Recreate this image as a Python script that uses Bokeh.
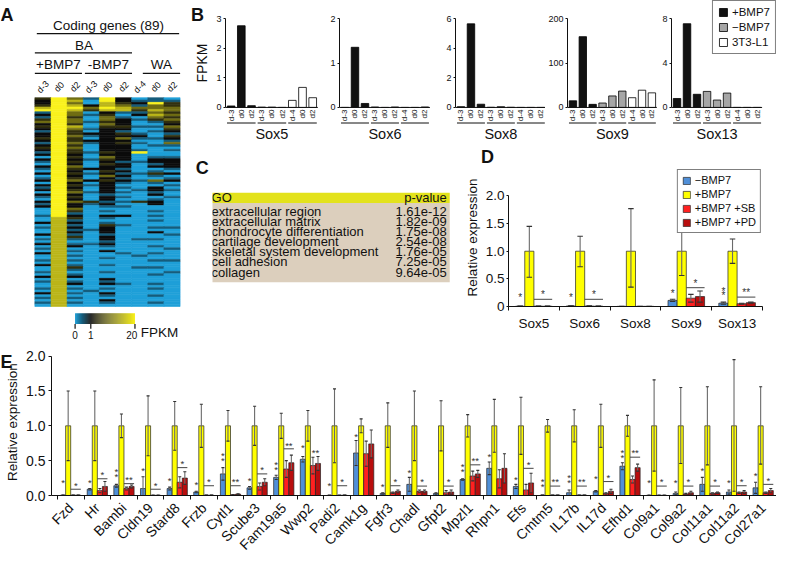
import math
import numpy as np
from bokeh.plotting import figure
from bokeh.models import Range1d, FixedTicker, Legend, LegendItem, PrintfTickFormatter
from bokeh.layouts import row, column
from bokeh.embed import file_html
from bokeh.resources import INLINE
from bokeh.core.properties import value

FONT = "Liberation Sans"
SX = 776 / 792
SY = 561 / 577

# ---------------- Panel A data (heatmap, level codes per row: 9 samples) ----------------
heat_title = "Coding genes (89)"
heat_groups = ["+BMP7", "-BMP7", "WA"]
heat_samples = ["d-3", "d0", "d2", "d-3", "d0", "d2", "d-4", "d0", "d2"]
heat_level_fpkm = [0.0, 0.45, 1.0, 4.0, 9.0, 15.0, 20.0]
heat_rows = [
    "364162010", "265062111", "264053263", "365254143", "566465444", "665355354",
    "164021143", "264130254", "163041043", "364042134", "464132013", "263042002",
    "365033114", "264122003", "163021012", "263223101", "264122203", "363024112",
    "263222001", "164123104", "263022011", "364022000", "263022101", "163132600",
    "262022000", "063042011", "262132022", "163021122", "062032012", "264022022",
    "163221001", "062032010", "263121132", "062042010", "163021001", "264232142",
    "062021010", "263120001", "162021020", "263020121", "064121010", "262010020",
    "163021001", "062020010", "264311320", "162120020", "262011000", "064000000",
    "063010010", "061000000", "162022010", "053010000", "051000010", "252010000",
    "051031000", "152020011", "051120000", "052020020", "251010001", "053020000",
    "151020110", "050010000", "251120000", "052010010", "150000001", "051020000",
    "250001010", "051000100", "050010000", "151000011", "050000000", "251010000",
    "053000110", "051000000", "150010001", "051000010", "252000000", "050020000",
    "151010000", "052021010", "050000000", "151010010", "050100000", "251020000",
    "050010010", "151000000", "050020000", "151010010", "050000000",
]
cbar_ticks = [0, 1, 20]

# ---------------- Panel B data ----------------
b_genes = ["Sox5", "Sox6", "Sox8", "Sox9", "Sox13"]
b_days = ["d-3", "d0", "d2", "d-3", "d0", "d2", "d-4", "d0", "d2"]
b_groups = ["+BMP7", "\u2212BMP7", "3T3-L1"]
sox5_fpkm = [0.05, 2.77, 0.06, 0.01, 0.01, 0.0, 0.24, 0.68, 0.33]
sox6_fpkm = [0.0, 1.36, 0.09, 0.01, 0.0, 0.01, 0.0, 0.0, 0.01]
sox8_fpkm = [0.05, 5.67, 0.22, 0.01, 0.05, 0.01, 0.0, 0.0, 0.0]
sox9_fpkm = [15, 160, 7, 10, 26, 37, 22, 39, 33]
sox13_fpkm = [0.81, 7.57, 1.19, 1.45, 0.67, 1.3, 0.0, 0.0, 0.0]
b_ymax = [3, 2, 6, 200, 8]
b_ticks = [[0, 1, 2, 3], [0, 1, 2], [0, 2, 4, 6], [0, 100, 200], [0, 4, 8]]

# ---------------- Panel C data ----------------
go_terms = ["extracellular region", "extracellular matrix", "chondrocyte differentiation",
            "cartilage development", "skeletal system development", "cell adhesion", "collagen"]
go_pvalues = ["1.61e-12", "1.82e-09", "1.75e-08", "2.54e-08", "1.76e-05", "7.25e-05", "9.64e-05"]

# ---------------- Panel D data ----------------
d_genes = ["Sox5", "Sox6", "Sox8", "Sox9", "Sox13"]
d_series = ["\u2212BMP7", "+BMP7", "+BMP7 +SB", "+BMP7 +PD"]
d_minus = [0.005, 0.01, 0.003, 0.11, 0.06]
d_minus_err = [0.002, 0.004, 0.002, 0.02, 0.02]
d_plus_hi = [1.45, 1.27, 1.77, 1.43, 1.22]
d_plus_lo = [0.53, 0.72, 0.35, 0.56, 0.78]
d_sb = [0.005, 0.008, 0.003, 0.15, 0.05]
d_sb_err = [0.002, 0.003, 0.002, 0.07, 0.01]
d_pd = [0.004, 0.005, 0.003, 0.18, 0.07]
d_pd_err = [0.002, 0.002, 0.002, 0.10, 0.01]
d_minus_star = [1, 1, 0, 1, 2]
d_minus_star_y = [0.17, 0.17, 0.0, 0.23, 0.19]
d_pair_line = [0.13, 0.13, 0.0, 0.34, 0.17]
d_pair_star = [1, 1, 0, 1, 2]
d_pair_star_y = [0.21, 0.21, 0.0, 0.42, 0.25]

# ---------------- Panel E data ----------------
e_genes = ["Fzd", "Hr", "Bambi", "Cldn19", "Stard8", "Frzb", "Cytl1", "Scube3", "Fam19a5",
           "Wwp2", "Padi2", "Camk1g", "Fgfr3", "Chadl", "Gfpt2", "Mpzl1", "Rhpn1", "Efs",
           "Cmtm5", "IL17b", "IL17d", "Efhd1", "Col9a1", "Col9a2", "Col11a1", "Col11a2", "Col27a1"]
e_minus = [0.005, 0.09, 0.14, 0.10, 0.10, 0.05, 0.31, 0.11, 0.26, 0.52, 0.003, 0.61, 0.03, 0.16,
           0.03, 0.23, 0.39, 0.13, 0.005, 0.04, 0.06, 0.42, 0.003, 0.03, 0.16, 0.05, 0.11]
e_minus_err = [0.003, 0.01, 0.02, 0.17, 0.02, 0.01, 0.09, 0.02, 0.03, 0.04, 0.002, 0.18, 0.01, 0.10,
               0.01, 0.01, 0.09, 0.03, 0.003, 0.04, 0.01, 0.05, 0.002, 0.02, 0.10, 0.03, 0.08]
e_plus_hi = [1.50, 1.50, 1.17, 1.43, 1.35, 1.31, 1.22, 1.28, 1.18, 1.22, 1.53, 1.10, 1.33, 1.50,
             1.36, 1.16, 1.38, 1.41, 1.09, 1.23, 1.31, 1.15, 1.66, 1.55, 1.56, 1.95, 1.56]
e_plus_lo = [0.50, 0.50, 0.83, 0.57, 0.65, 0.69, 0.78, 0.72, 0.82, 0.78, 0.47, 0.90, 0.69, 0.50,
             0.64, 0.84, 0.62, 0.59, 0.91, 0.77, 0.69, 0.85, 0.35, 0.46, 0.44, 0.06, 0.45]
e_sb = [0.005, 0.07, 0.10, 0.003, 0.19, 0.005, 0.01, 0.13, 0.38, 0.43, 0.003, 0.60, 0.04, 0.06,
        0.04, 0.28, 0.24, 0.08, 0.005, 0.005, 0.03, 0.23, 0.003, 0.02, 0.03, 0.04, 0.04]
e_sb_err = [0.002, 0.03, 0.02, 0.002, 0.08, 0.002, 0.005, 0.05, 0.12, 0.12, 0.002, 0.18, 0.01, 0.02,
            0.03, 0.07, 0.13, 0.08, 0.002, 0.002, 0.01, 0.05, 0.002, 0.01, 0.01, 0.01, 0.01]
e_pd = [0.005, 0.13, 0.13, 0.003, 0.25, 0.005, 0.02, 0.19, 0.47, 0.46, 0.005, 0.74, 0.06, 0.06,
        0.05, 0.31, 0.39, 0.18, 0.005, 0.005, 0.06, 0.40, 0.003, 0.04, 0.04, 0.05, 0.07]
e_pd_err = [0.002, 0.07, 0.02, 0.002, 0.09, 0.002, 0.005, 0.05, 0.11, 0.10, 0.002, 0.20, 0.02, 0.02,
            0.03, 0.05, 0.21, 0.14, 0.002, 0.002, 0.03, 0.05, 0.002, 0.02, 0.01, 0.02, 0.03]
e_minus_star = [1, 1, 2, 1, 1, 1, 2, 1, 2, 1, 1, 1, 1, 1, 0, 2, 1, 1, 2, 2, 1, 2, 1, 1, 1, 1, 1]
e_minus_star_y = [0.18, 0.19, 0.27, 0.36, 0.21, 0.16, 0.50, 0.22, 0.37, 0.69, 0.14, 0.84, 0.13, 0.33,
                  0.0, 0.35, 0.56, 0.23, 0.13, 0.19, 0.24, 0.55, 0.18, 0.18, 0.36, 0.18, 0.28]
e_pair_line = [0.09, 0.24, 0.17, 0.09, 0.40, 0.14, 0.14, 0.31, 0.67, 0.0, 0.14, 0.0, 0.14, 0.135,
               0.135, 0.44, 0.0, 0.39, 0.135, 0.135, 0.20, 0.55, 0.135, 0.135, 0.135, 0.14, 0.16]
e_pair_star = [1, 1, 2, 1, 1, 1, 2, 1, 2, 2, 1, 0, 1, 1, 1, 2, 0, 1, 2, 2, 1, 2, 1, 1, 1, 1, 1]
e_pair_star_y = [0.15, 0.30, 0.23, 0.15, 0.46, 0.20, 0.20, 0.37, 0.72, 0.62, 0.20, 0.0, 0.20, 0.195,
                 0.195, 0.50, 0.0, 0.45, 0.195, 0.195, 0.26, 0.61, 0.195, 0.195, 0.195, 0.20, 0.22]

# ---------------- styling ----------------
B_COLORS = ["#111111", "#a6a6a6", "#ffffff"]
C_BLUE, C_YEL, C_RED, C_DRED = "#4f8fd8", "#ffff00", "#ff2020", "#b80d0d"
ERR = "#6a6a6a"
INK = "#111111"


def fpkm_color(v):
    blue = np.array([31, 160, 216.0])
    black = np.array([12, 12, 12.0])
    yellow = np.array([250, 242, 30.0])
    if v <= 1:
        c = blue * (1 - v) + black * v
    else:
        t = (v - 1) / 19.0
        c = black * (1 - t) + yellow * t
    return "#%02x%02x%02x" % tuple(int(round(x)) for x in c)


def txt(p, xs, ys, ts, size, align="left", baseline="middle", angle=0.0, style="normal", color=INK):
    p.text(x=xs, y=ys, text=ts, text_font=value(FONT), text_font_size=size, text_align=align,
           text_baseline=baseline, angle=angle, text_font_style=style, text_color=color)


def style_fig(p):
    p.outline_line_color = None
    p.grid.visible = False
    p.border_fill_color = "white"
    p.background_fill_color = "white"


TOP_H = 340
TOTAL_W = 776
A_W = round(216 * SX)          # 212
RIGHT_W = TOTAL_W - A_W
B_H = 146
CD_H = TOP_H - B_H
E_H = 561 - TOP_H

# ================= Panel A (also holds letters B, C and the FPKM label of B) =================
colw = 16.44
rowh = 215.0 / len(heat_rows)


def Ax(rx):
    return (rx - 35) / colw


def Ay(ry):
    return (100 - ry) / rowh


pA = figure(width=A_W, height=TOP_H, x_range=Range1d(Ax(0), Ax(216)), y_range=Range1d(Ay(350), Ay(0)),
            x_axis_type=None, y_axis_type=None, min_border=0, output_backend="svg", toolbar_location=None)
style_fig(pA)
hx, hy, hc = [], [], []
for i, r in enumerate(heat_rows):
    for j, ch in enumerate(r):
        hx.append(j + 0.5)
        hy.append(-(i + 0.5))
        hc.append(fpkm_color(heat_level_fpkm[int(ch)]))
pA.rect(x=hx, y=hy, width=1, height=1, fill_color=hc, line_color=hc, line_width=0.6)

txt(pA, [Ax(0), Ax(194), Ax(199)], [Ay(5), Ay(5), Ay(162)], ["A", "B", "C"], "18px",
    baseline="top", style="bold")
txt(pA, [Ax(205.5)], [Ay(64.5)], ["FPKM"], "14px", align="center", angle=math.pi / 2)
txt(pA, [Ax(110)], [Ay(26)], [heat_title], "13.5px", align="center")
txt(pA, [Ax(85)], [Ay(46)], ["BA"], "13.5px", align="center")
txt(pA, [Ax(59), Ax(110), Ax(164)], [Ay(66)] * 3, heat_groups, "13.5px", align="center")
pA.segment(x0=[Ax(37), Ax(35), Ax(35), Ax(86), Ax(145)],
           y0=[Ay(34), Ay(54), Ay(75), Ay(75), Ay(75)],
           x1=[Ax(182), Ax(134), Ax(83), Ax(134), Ax(183)],
           y1=[Ay(34), Ay(54), Ay(75), Ay(75), Ay(75)], line_color=INK, line_width=1.3)
txt(pA, [j + 0.5 for j in range(len(heat_samples))], [Ay(89)] * len(heat_samples), heat_samples,
    "9px", align="center", angle=math.pi / 4)


# colour bar (non-linear: 0-1 then 1-20)
def cbar_x(v):
    return 76 + v * 16 if v <= 1 else 92 + (v - 1) / 19 * 45


cb_x, cb_c = [], []
for k in range(61):
    rx = 76 + k + 0.5
    v = (rx - 76) / 16 if rx <= 92 else 1 + (rx - 92) / 45 * 19
    cb_x.append(Ax(rx))
    cb_c.append(fpkm_color(v))
pA.rect(x=cb_x, y=[Ay(327.5)] * len(cb_x), width=1.1 / colw, height=11 / rowh,
        fill_color=cb_c, line_color=None)
tx = [Ax(cbar_x(v)) for v in cbar_ticks]
pA.segment(x0=tx, y0=[Ay(333)] * 3, x1=tx, y1=[Ay(338)] * 3, line_color=INK, line_width=1.2)
txt(pA, [tx[0], tx[1], tx[2] - 0.2], [Ay(344)] * 3, [str(v) for v in cbar_ticks], "10px", align="center")
txt(pA, [Ax(143)], [Ay(342)], ["FPKM"], "13.5px")

# ================= Panel B =================
B_UNIT = 10.2
b_values = [sox5_fpkm, sox6_fpkm, sox8_fpkm, sox9_fpkm, sox13_fpkm]
b_layout = [(13, 98, 4), (10, 98, 8), (10, 92, 0), (19, 93, 2), (10, 107, 0)]
b_figs = []
for k, (L, F, R) in enumerate(b_layout):
    vals = b_values[k]
    ymax = b_ymax[k]
    top_px, zero_px = 19 * SY, 110 * SY
    ppu = (zero_px - top_px) / ymax
    yr = Range1d(-(B_H - zero_px) / ppu, ymax + top_px / ppu)
    xr = Range1d(-0.05, -0.05 + F / B_UNIT)
    p = figure(width=L + F + R, height=B_H, x_range=xr, y_range=yr, x_axis_type=None,
               min_border_left=L, min_border_right=R, min_border_top=0, min_border_bottom=0,
               output_backend="svg", toolbar_location=None)
    style_fig(p)
    rends = []
    for g in range(3):
        rends.append(p.vbar(x=[3 * g + 0.5, 3 * g + 1.5, 3 * g + 2.5], top=vals[3 * g:3 * g + 3], width=0.75,
                            fill_color=B_COLORS[g], line_color="black", line_width=0.8))
    n = len(vals)
    p.segment(x0=[-0.05], y0=[0], x1=[n], y1=[0], line_color=INK, line_width=1)
    txt(p, [i + 0.5 for i in range(n)], [-2.2 * SY / ppu] * n, b_days, "8px",
        align="right", angle=math.pi / 2)
    gy = -16 * SY / ppu
    p.segment(x0=[3 * g + 0.1 for g in range(3)], y0=[gy] * 3, x1=[3 * g + 2.9 for g in range(3)],
              y1=[gy] * 3, line_color=INK, line_width=1)
    txt(p, [n / 2], [-27.5 * SY / ppu], [b_genes[k]], "14.5px", align="center")
    ax = p.yaxis[0]
    ax.bounds = (0, ymax)
    ax.ticker = FixedTicker(ticks=b_ticks[k])
    ax.major_label_text_font = FONT
    ax.major_label_text_font_size = "9px"
    ax.major_label_text_color = INK
    ax.major_tick_out = 2
    ax.major_tick_in = 0
    ax.minor_tick_out = 0
    ax.minor_tick_in = 0
    ax.major_label_standoff = 2
    ax.axis_line_color = INK
    ax.major_tick_line_color = INK
    if k == 4:
        leg = Legend(items=[LegendItem(label=b_groups[g], renderers=[rends[g]]) for g in range(3)],
                     location="top_right", margin=0, padding=5, spacing=3, label_height=12,
                     glyph_width=10, glyph_height=10, label_standoff=4,
                     label_text_font=FONT, label_text_font_size="11.5px", label_text_color=INK,
                     border_line_color="black", border_line_width=1, background_fill_alpha=1)
        p.add_layout(leg)
    b_figs.append(p)


# ================= grouped expression bars (D, E) =================
def expr_bars(p, n, w, minus, minus_e, hi, lo, sb, sb_e, pd, pd_e,
              ms, ms_y, pl, ps, ps_y, star_size, dy):
    c = np.arange(n, dtype=float)
    xm, xy, xs, xp = c - 1.5 * w, c - 0.5 * w, c + 0.5 * w, c + 1.5 * w
    lw = 0.7
    rm = p.vbar(x=xm, top=minus, width=w, fill_color=C_BLUE, line_color="#222222", line_width=lw)
    ry = p.vbar(x=xy, top=[1.0] * n, width=w, fill_color=C_YEL, line_color="#222222", line_width=lw)
    rs = p.vbar(x=xs, top=sb, width=w, fill_color=C_RED, line_color="#222222", line_width=lw)
    rp = p.vbar(x=xp, top=pd, width=w, fill_color=C_DRED, line_color="#222222", line_width=lw)
    mv, me = np.array(minus), np.array(minus_e)
    sv, se = np.array(sb), np.array(sb_e)
    pv, pe = np.array(pd), np.array(pd_e)
    ex = np.concatenate([xm, xy, xs, xp])
    elo = np.concatenate([np.maximum(mv - me, 0), np.array(lo), np.maximum(sv - se, 0), np.maximum(pv - pe, 0)])
    ehi = np.concatenate([mv + me, np.array(hi), sv + se, pv + pe])
    cap = w * 0.3
    p.segment(x0=ex, y0=elo, x1=ex, y1=ehi, line_color=ERR, line_width=1.1)
    p.segment(x0=ex - cap, y0=ehi, x1=ex + cap, y1=ehi, line_color="#333333", line_width=1.1)
    p.segment(x0=ex - cap, y0=elo, x1=ex + cap, y1=elo, line_color="#333333", line_width=1.1)
    sx, sy = [], []
    for i in range(n):
        for k in range(ms[i]):
            sx.append(xm[i])
            sy.append(ms_y[i] + k * dy)
    txt(p, sx, sy, ["*"] * len(sx), star_size, align="center", color="#333333")
    lx0, lx1, ly = [], [], []
    px_, py_, pt = [], [], []
    for i in range(n):
        if pl[i] > 0:
            lx0.append(xs[i] - w / 2)
            lx1.append(xp[i] + w / 2)
            ly.append(pl[i])
        if ps[i] > 0:
            px_.append(c[i] + w)
            py_.append(ps_y[i])
            pt.append("*" * ps[i])
    p.segment(x0=lx0, y0=ly, x1=lx1, y1=ly, line_color="#444444", line_width=1)
    txt(p, px_, py_, pt, star_size, align="center", color="#333333")
    return [rm, ry, rs, rp]


def style_axes(p, ylab, font_px, tick_fmt, y_overrides=None):
    for ax in (p.xaxis[0], p.yaxis[0]):
        ax.axis_line_color = INK
        ax.major_label_text_font = FONT
        ax.major_label_text_font_size = font_px
        ax.major_label_text_color = INK
        ax.major_tick_line_color = INK
        ax.minor_tick_line_color = INK
    ya = p.yaxis[0]
    ya.bounds = (0, 2)
    ya.ticker = FixedTicker(ticks=[0, 0.5, 1.0, 1.5, 2.0])
    ya.formatter = PrintfTickFormatter(format=tick_fmt)
    if y_overrides:
        ya.major_label_overrides = y_overrides
    ya.major_tick_out = 3
    ya.major_tick_in = 0
    ya.minor_tick_out = 0
    if ylab:
        ya.axis_label = ylab
        ya.axis_label_text_font = FONT
        ya.axis_label_text_font_size = font_px
        ya.axis_label_text_font_style = "normal"
        ya.axis_label_text_color = INK


# ================= Panel C =================
C_W = round(470 * SX) - A_W
pC = figure(width=C_W, height=CD_H, x_range=Range1d(216, 470), y_range=Range1d(-350, -150),
            x_axis_type=None, y_axis_type=None, min_border=0, output_backend="svg", toolbar_location=None)
style_fig(pC)
pC.quad(left=[212], right=[458], top=[-185], bottom=[-200], fill_color="#e3e21c", line_color=None)
pC.quad(left=[212], right=[458], top=[-200], bottom=[-315], fill_color="#dccfbd", line_color=None)
txt(pC, [215], [-192.5], ["GO"], "13px")
txt(pC, [455], [-192.5], ["p-value"], "13px", align="right")
ry_ = [-(213 + 14.5 * i) for i in range(len(go_terms))]
txt(pC, [215] * len(go_terms), ry_, go_terms, "13px")
txt(pC, [455] * len(go_terms), ry_, go_pvalues, "13px", align="right")

# ================= Panel D =================
D_W = RIGHT_W - C_W
dL, dT, dB = 42, 21, 34
dFw = round(264 * SX)
dR = D_W - dL - dFw
dFh = CD_H - dT - dB
gap = (200 - 150) * SY - dT
dppu = (dFh - gap) / 2
pD = figure(width=D_W, height=CD_H, x_range=Range1d(-0.5, len(d_genes) - 0.5),
            y_range=Range1d(0, 2 + gap / dppu), min_border_left=dL, min_border_right=dR,
            min_border_top=dT, min_border_bottom=dB, output_backend="svg", toolbar_location=None,
            title="D")
style_fig(pD)
pD.title.text_font = FONT
pD.title.text_font_size = "18px"
pD.title.text_font_style = "bold"
pD.title.text_color = INK
pD.title.align = "left"
pD.title.vertical_align = "top"
pD.title.standoff = 0
pD.title.offset = -(513 - 485) * SX
d_r = expr_bars(pD, len(d_genes), 0.18, d_minus, d_minus_err, d_plus_hi, d_plus_lo, d_sb, d_sb_err,
                d_pd, d_pd_err, d_minus_star, d_minus_star_y, d_pair_line, d_pair_star, d_pair_star_y,
                "10px", 0.085)
style_axes(pD, "Relative expression", "13.5px", "%.1f", {0: "0"})
xa = pD.xaxis[0]
xa.ticker = FixedTicker(ticks=list(range(len(d_genes))), minor_ticks=[i - 0.5 for i in range(len(d_genes) + 1)])
xa.major_label_overrides = {i: g for i, g in enumerate(d_genes)}
xa.major_tick_out = 0
xa.major_tick_in = 0
xa.minor_tick_out = 4
xa.minor_tick_in = 0
xa.major_label_standoff = 5
pD.yaxis[0].major_label_standoff = 2
pD.yaxis[0].major_tick_out = 2
pD.yaxis[0].axis_label_standoff = 3
legD = Legend(items=[LegendItem(label=d_series[i], renderers=[d_r[i]]) for i in range(4)],
              location="top_right", margin=1, padding=4, spacing=2,
              label_height=12, glyph_width=9, glyph_height=9, label_standoff=4,
              label_text_font=FONT, label_text_font_size="11px", label_text_color=INK,
              border_line_color="black", border_line_width=1, background_fill_alpha=1)
pD.add_layout(legD)

# ================= Panel E (left strip holds letter E and the y label) =================
STRIP_W = 22
pEs = figure(width=STRIP_W, height=E_H, x_range=Range1d(0, 22 / SX), y_range=Range1d(-577, -350),
             x_axis_type=None, y_axis_type=None, min_border=0, output_backend="svg", toolbar_location=None)
style_fig(pEs)
txt(pEs, [0], [-352], ["E"], "18px", baseline="top", style="bold")
txt(pEs, [12], [-462], ["Relative expression"], "13.5px", align="center", angle=math.pi / 2)

eL, eT = 29, 10
eW = TOTAL_W - STRIP_W
eFh = round((515 - 350) * SY) - eT
eB = E_H - eT - eFh
eFw = eW - eL
egap = (366 - 360) * SY
eppu = (eFh - egap) / 2
n_e = len(e_genes)
e_len = n_e / (1 - 6 * SX / eFw)
e_x0 = n_e - 0.5 - e_len
pE = figure(width=eW, height=E_H, x_range=Range1d(e_x0, n_e - 0.5),
            y_range=Range1d(0, 2 + egap / eppu), min_border_left=eL, min_border_right=0,
            min_border_top=eT, min_border_bottom=eB, output_backend="svg", toolbar_location=None)
style_fig(pE)
expr_bars(pE, n_e, 0.19, e_minus, e_minus_err, e_plus_hi, e_plus_lo, e_sb, e_sb_err,
          e_pd, e_pd_err, e_minus_star, e_minus_star_y, e_pair_line, e_pair_star, e_pair_star_y,
          "9.5px", 0.07)
style_axes(pE, None, "14px", "%.1f")
xa = pE.xaxis[0]
xa.ticker = FixedTicker(ticks=list(range(n_e)), minor_ticks=[i - 0.5 for i in range(n_e + 1)])
xa.major_label_overrides = {i: g for i, g in enumerate(e_genes)}
xa.major_label_orientation = math.pi / 4
xa.major_tick_out = 0
xa.major_tick_in = 0
xa.minor_tick_out = 4
xa.minor_tick_in = 0
xa.major_label_standoff = 6
pE.yaxis[0].major_label_standoff = 3

layout = column(
    row(pA, column(row(*b_figs), row(pC, pD))),
    row(pEs, pE),
)
open("out.html", "w").write(file_html(layout, INLINE))
